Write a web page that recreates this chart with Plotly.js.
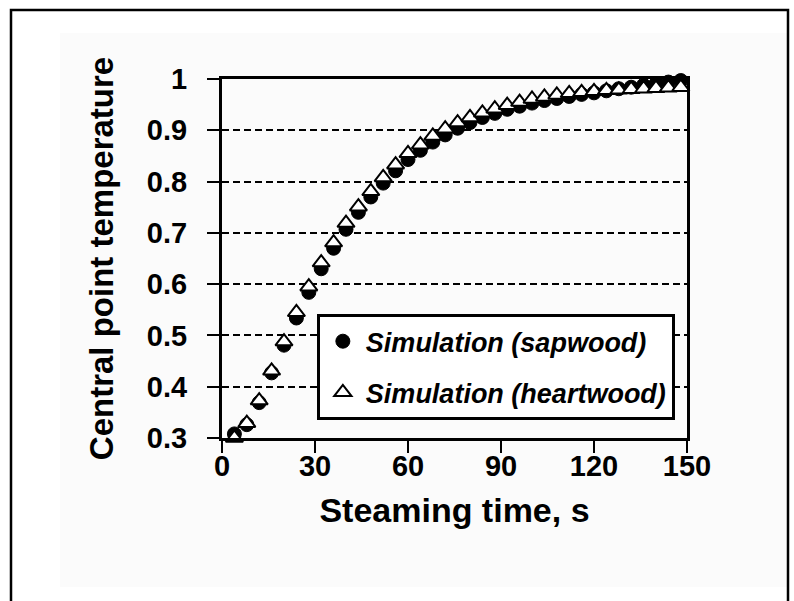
<!DOCTYPE html>
<html>
<head>
<meta charset="utf-8">
<script src="https://cdn.plot.ly/plotly-3.0.1.min.js"></script>
<style>html,body{margin:0;padding:0;background:#fff;}#chart{width:794px;height:601px;}</style>
</head>
<body>
<div id="chart"></div>
<script>
// Steaming time, s
var time = [4, 8, 12, 16, 20, 24, 28, 32, 36, 40, 44, 48, 52, 56, 60, 64, 68, 72, 76, 80, 84, 88, 92, 96, 100, 104, 108, 112, 116, 120, 124, 128, 132, 136, 140, 144, 148];
// Central point temperature (dimensionless)
var sapwood = [0.308, 0.326, 0.369, 0.427, 0.481, 0.534, 0.584, 0.630, 0.670, 0.707, 0.740, 0.770, 0.797, 0.821, 0.843, 0.861, 0.877, 0.891, 0.904, 0.915, 0.925, 0.933, 0.941, 0.947, 0.953, 0.958, 0.962, 0.966, 0.970, 0.973, 0.977, 0.981, 0.984, 0.988, 0.991, 0.994, 0.997];
var heartwood = [0.300, 0.329, 0.373, 0.431, 0.488, 0.545, 0.595, 0.642, 0.681, 0.719, 0.751, 0.781, 0.808, 0.833, 0.855, 0.872, 0.889, 0.903, 0.915, 0.925, 0.934, 0.942, 0.949, 0.955, 0.961, 0.965, 0.969, 0.972, 0.974, 0.976, 0.978, 0.979, 0.980, 0.981, 0.982, 0.983, 0.984];
var yTicks = [0.3, 0.4, 0.5, 0.6, 0.7, 0.8, 0.9, 1.0];
var yTickText = ['0.3', '0.4', '0.5', '0.6', '0.7', '0.8', '0.9', '1'];
var xTicks = [0, 30, 60, 90, 120, 150];
var seriesNames = ['Simulation (sapwood)', 'Simulation (heartwood)'];

var FONT = 'Arial, "Liberation Sans", sans-serif';

var traces = [
  {
    x: time, y: sapwood, name: seriesNames[0], type: 'scatter', mode: 'markers',
    legendgroup: 'a', cliponaxis: false,
    marker: {symbol: 'circle', size: 14, color: '#000', line: {color: '#000', width: 1}}
  },
  {
    x: time, y: heartwood, name: seriesNames[1], type: 'scatter', mode: 'markers',
    legendgroup: 'b', cliponaxis: false,
    marker: {symbol: 'triangle-up', size: 15, color: '#fff', line: {color: '#000', width: 2}}
  }
];

var layout = {
  width: 794, height: 601,
  paper_bgcolor: '#fff', plot_bgcolor: '#fff',
  margin: {l: 222, r: 107, t: 79, b: 163},
  font: {family: FONT, color: '#000'},
  showlegend: true,
  legend: {
    x: 0.204, y: 0.345, xanchor: 'left', yanchor: 'top',
    bgcolor: '#fff', bordercolor: '#000', borderwidth: 3,
    font: {family: FONT, size: 27, color: '#000', style: 'italic', weight: 'bold'},
    traceorder: 'grouped', tracegroupgap: 13, itemwidth: 36
  },
  xaxis: {
    range: [0, 150], tickvals: xTicks, ticktext: xTicks.map(String),
    showline: true, linecolor: '#000', linewidth: 3, mirror: true,
    ticks: 'outside', ticklen: 12, tickwidth: 2, tickcolor: '#000',
    showgrid: false, zeroline: false,
    tickfont: {family: FONT, size: 29, weight: 'bold', color: '#000'},
    ticklabelstandoff: -12,
    title: {text: 'Steaming time, s', font: {family: FONT, size: 34, weight: 'bold', color: '#000'}, standoff: 18}
  },
  yaxis: {
    range: [0.3, 1.0], tickvals: yTicks, ticktext: yTickText,
    showline: true, linecolor: '#000', linewidth: 3, mirror: true,
    ticks: 'outside', ticklen: 12, tickwidth: 2, tickcolor: '#000',
    showgrid: true, gridcolor: '#000', gridwidth: 2, griddash: '7px,4px',
    zeroline: false,
    tickfont: {family: FONT, size: 29, weight: 'bold', color: '#000'},
    ticklabelstandoff: 14,
    title: {text: 'Central point temperature', font: {family: FONT, size: 33, weight: 'bold', color: '#000'}, standoff: 24}
  },
  shapes: [
    {type: 'rect', xref: 'paper', yref: 'paper', layer: 'below',
     x0: (60 - 222) / 465, x1: (788 - 222) / 465, y0: (438 - 587) / 359, y1: (438 - 33) / 359,
     fillcolor: '#fbfbfb', line: {width: 0}},
    {type: 'path', xref: 'paper', yref: 'paper', layer: 'above',
     path: 'M ' + ((11 - 222) / 465) + ' ' + ((438 - 605) / 359) +
           ' L ' + ((11 - 222) / 465) + ' ' + ((438 - 10) / 359) +
           ' L ' + ((788 - 222) / 465) + ' ' + ((438 - 10) / 359) +
           ' L ' + ((788 - 222) / 465) + ' ' + ((438 - 605) / 359),
     line: {color: '#000', width: 2.5}}
  ]
};

Plotly.newPlot('chart', traces, layout, {displayModeBar: false, staticPlot: true});
</script>
</body>
</html>
